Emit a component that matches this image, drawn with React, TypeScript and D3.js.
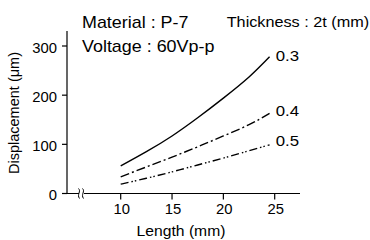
import React from "react";
import * as d3 from "d3";

const lengths = [10, 12.5, 15, 17.5, 20, 22.5, 24.5];
const series03 = [56, 85, 117, 154, 194, 237, 278];
const series04 = [34, 54, 74, 95, 117, 140, 163];
const series05 = [19, 31, 44, 58, 72, 87, 99];
const thicknessLabels = ["0.3", "0.4", "0.5"];
const yTicks = [0, 100, 200, 300];
const xTicks = [10, 15, 20, 25];

const font = "Liberation Sans, Arial, sans-serif";
const SX = 1.12;

function T(props: {
  x: number;
  y: number;
  size: number;
  anchor?: string;
  sx?: number;
  children: React.ReactNode;
}) {
  const { x, y, size, anchor = "start", sx = SX, children } = props;
  return (
    <text
      transform={`translate(${x},${y}) scale(${sx},1)`}
      fontSize={size}
      textAnchor={anchor}
      fill="#000"
    >
      {children}
    </text>
  );
}

export default function App() {
  const x = d3.scaleLinear().domain([10, 25]).range([120.7, 274.7]);
  const y = d3.scaleLinear().domain([0, 300]).range([193.5, 46]);
  const line = d3
    .line<number>()
    .x((_, i) => x(lengths[i]))
    .y((d) => y(d))
    .curve(d3.curveNatural);
  const series = [series03, series04, series05];
  const dashes = ["none", "9 3 2 3", "8 3 1.5 2 1.5 3"];
  const labelY = [60.7, 116, 146];
  const x0 = 67;
  const xEnd = 300;
  const y0 = y(0);
  return (
    <svg
      width={370}
      height={240}
      style={{ position: "absolute", left: 0, top: 0, background: "#fff" }}
      fontFamily={font}
    >
      <rect width={370} height={240} fill="#fff" />
      <line x1={x0} y1={31} x2={x0} y2={y0} stroke="#000" strokeWidth={1.2} />
      <line x1={x0} y1={y0} x2={xEnd} y2={y0} stroke="#000" strokeWidth={1.2} />
      <rect x={79} y={y0 - 4} width={5} height={8} fill="#fff" />
      {[79.5, 83.5].map((bx, i) => (
        <path
          key={i}
          d={`M${bx - 1},${y0 - 5} C${bx + 2},${y0 - 2} ${bx - 3},${y0 + 1} ${bx},${y0 + 5}`}
          fill="none"
          stroke="#000"
          strokeWidth={1}
        />
      ))}
      {yTicks.map((t) => (
        <g key={t}>
          <line x1={x0 - 5} x2={x0} y1={y(t)} y2={y(t)} stroke="#000" strokeWidth={1.2} />
          <T x={x0 - 10} y={y(t) + 6.5} size={14} anchor="end" sx={1.06}>
            {t}
          </T>
        </g>
      ))}
      {xTicks.map((t) => (
        <g key={t}>
          <line x1={x(t)} x2={x(t)} y1={y0} y2={y0 + 6} stroke="#000" strokeWidth={1.2} />
          <T x={x(t) + 1} y={214} size={14} anchor="middle" sx={1.06}>
            {t}
          </T>
        </g>
      ))}
      {series.map((s, i) => (
        <path
          key={i}
          d={line(s) || ""}
          fill="none"
          stroke="#000"
          strokeWidth={1.4}
          strokeDasharray={dashes[i]}
        />
      ))}
      {series.map((s, i) => (
        <T key={"l" + i} x={275.7} y={labelY[i]} size={15}>
          {thicknessLabels[i]}
        </T>
      ))}
      <T x={82} y={28.3} size={16}>
        Material : P-7
      </T>
      <T x={82} y={52} size={16}>
        Voltage : 60Vp-p
      </T>
      <T x={226.7} y={26.5} size={14.5}>
        Thickness : 2t (mm)
      </T>
      <T x={181} y={236} size={14} anchor="middle">
        Length (mm)
      </T>
      <text
        transform="translate(18.5,113) rotate(-90)"
        fontSize={14.5}
        textAnchor="middle"
      >
        Displacement (μm)
      </text>
    </svg>
  );
}
